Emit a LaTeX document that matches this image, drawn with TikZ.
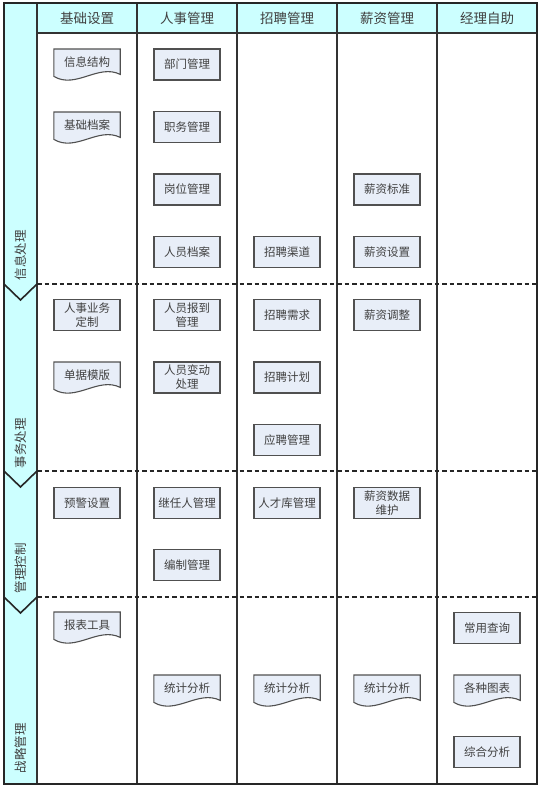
\documentclass[tikz,border=0pt]{standalone}
\usepackage{fontspec}
\newfontfamily\cjk{Noto Sans CJK SC}
\usetikzlibrary{calc,backgrounds}
\definecolor{lanecyan}{HTML}{CCFFFF}
\definecolor{boxfill}{HTML}{E8EEF8}
\definecolor{boxline}{HTML}{505050}
\definecolor{txt}{HTML}{404040}
\tikzset{
  frame/.style={line width=1.6pt, draw=black!85},
  colline/.style={line width=1.3pt, draw=black!80},
  sepline/.style={line width=1.6pt, draw=black!85, dash pattern=on 4.5pt off 3pt},
  chev/.style={line width=1.6pt, draw=black!85},
  headtext/.style={font=\cjk\fontsize{13.5}{15}\selectfont, text=txt},
  lanetext/.style={font=\cjk\fontsize{12.5}{14}\selectfont, text=txt, rotate=90},
  procbox/.style={draw=boxline, fill=boxfill, line width=1.1pt, minimum width=66pt, minimum height=31pt, inner sep=0pt, align=center, font=\cjk\fontsize{11.5}{14}\selectfont, text=txt},
  doctext/.style={minimum width=66pt, minimum height=25pt, inner sep=0pt, anchor=north, align=center, font=\cjk\fontsize{11.5}{14}\selectfont, text=txt},
  docshape/.style={draw=boxline, fill=boxfill, line width=1.1pt},
}
\newcommand{\docnode}[4]{%
  \node[doctext] (#1) at (#2,#3) {#4};
  \begin{scope}[on background layer]
    \path[docshape] (#1.north west) -- (#1.north east) -- (#1.south east)
      .. controls ($(#1.south east)+(-22,-11)$) and ($(#1.south west)+(22,15)$) .. ($(#1.south west)+(0,2)$) -- cycle;
  \end{scope}
}
\begin{document}
\begin{tikzpicture}[x=1pt,y=-1pt]
\useasboundingbox (0,0) rectangle (538,788);
% fills
\begin{scope}[on background layer]
\fill[lanecyan] (4,3) rectangle (37,784);
\fill[lanecyan] (37,3) rectangle (537,33);
\end{scope}
% grid
\draw[colline] (37,3) -- (37,784);
\draw[colline] (137,3) -- (137,784);
\draw[colline] (237,3) -- (237,784);
\draw[colline] (337,3) -- (337,784);
\draw[colline] (437,3) -- (437,784);
\draw[colline] (37,33) -- (537,33);
\draw[frame] (4,3) rectangle (537,784);
% lane separators
\draw[sepline] (37,284) -- (537,284);
\draw[sepline] (37,471) -- (537,471);
\draw[sepline] (37,597) -- (537,597);
\draw[chev] (4,284) -- (20.5,300) -- (37,284);
\draw[chev] (4,471) -- (20.5,487) -- (37,471);
\draw[chev] (4,597) -- (20.5,613) -- (37,597);
% headers
\node[headtext] (h1) at (87,18) {基础设置};
\node[headtext] (h2) at (187,18) {人事管理};
\node[headtext] (h3) at (287,18) {招聘管理};
\node[headtext] (h4) at (387,18) {薪资管理};
\node[headtext] (h5) at (487,18) {经理自助};
% lane labels
\node[lanetext] (l1) at (20.5,255) {信息处理};
\node[lanetext] (l2) at (20.5,443) {事务处理};
\node[lanetext] (l3) at (20.5,568) {管理控制};
\node[lanetext] (l4) at (20.5,748) {战略管理};
% column 1
\docnode{c1a}{87}{49}{信息结构}
\docnode{c1b}{87}{112}{基础档案}
\node[procbox] (c1c) at (87,315) {人事业务\\定制};
\docnode{c1d}{87}{362}{单据模版}
\node[procbox] (c1e) at (87,503) {预警设置};
\docnode{c1f}{87}{612}{报表工具}
% column 2
\node[procbox] (c2a) at (187,64.5) {部门管理};
\node[procbox] (c2b) at (187,127) {职务管理};
\node[procbox] (c2c) at (187,189.5) {岗位管理};
\node[procbox] (c2d) at (187,252) {人员档案};
\node[procbox] (c2e) at (187,315) {人员报到\\管理};
\node[procbox] (c2f) at (187,377.5) {人员变动\\处理};
\node[procbox] (c2g) at (187,503) {继任人管理};
\node[procbox] (c2h) at (187,565) {编制管理};
\docnode{c2i}{187}{675}{统计分析}
% column 3
\node[procbox] (c3a) at (287,252) {招聘渠道};
\node[procbox] (c3b) at (287,315) {招聘需求};
\node[procbox] (c3c) at (287,377.5) {招聘计划};
\node[procbox] (c3d) at (287,440) {应聘管理};
\node[procbox] (c3e) at (287,503) {人才库管理};
\docnode{c3f}{287}{675}{统计分析}
% column 4
\node[procbox] (c4a) at (387,189.5) {薪资标准};
\node[procbox] (c4b) at (387,252) {薪资设置};
\node[procbox] (c4c) at (387,315) {薪资调整};
\node[procbox] (c4d) at (387,503) {薪资数据\\维护};
\docnode{c4e}{387}{675}{统计分析}
% column 5
\node[procbox] (c5a) at (487,628) {常用查询};
\docnode{c5b}{487}{675}{各种图表}
\node[procbox] (c5c) at (487,752) {综合分析};
\end{tikzpicture}
\end{document}
